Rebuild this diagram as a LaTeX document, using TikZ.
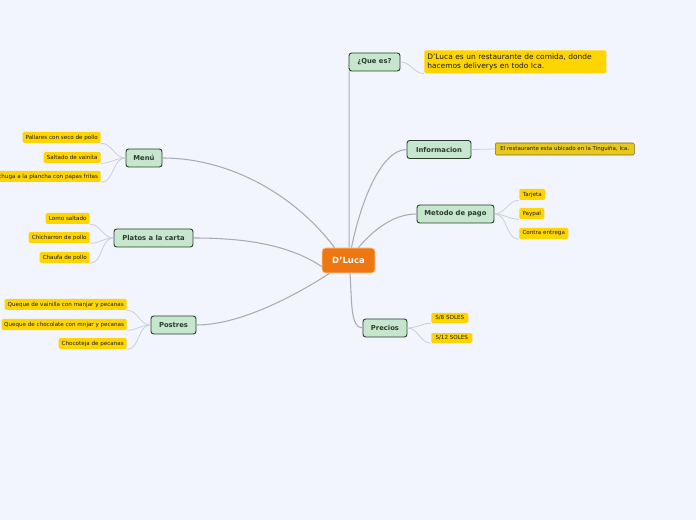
\documentclass[tikz,border=0pt]{standalone}
\usepackage{fontspec}
\setmainfont{DejaVu Sans}
\definecolor{bgc}{HTML}{F3F5FE}
\definecolor{topicfill}{HTML}{C6E6CE}
\definecolor{topicdraw}{HTML}{2B3B30}
\definecolor{leaffill}{HTML}{FFD500}
\definecolor{infofill}{HTML}{E9C81C}
\definecolor{infodraw}{HTML}{7A6A20}
\definecolor{centerfill}{HTML}{EE7711}
\definecolor{mainline}{HTML}{A9ABB6}
\definecolor{leafline}{HTML}{CDCFD8}
\begin{document}
\begin{tikzpicture}[x=0.75pt,y=-0.75pt,
  centerbox/.style={draw=orange!40,line width=0.6pt,fill=centerfill,rounded corners=2.5pt,text=white,font=\fontsize{6.4}{7}\selectfont\bfseries,minimum width=53*0.75pt,minimum height=25*0.75pt,inner sep=0pt},
  topic/.style={draw=topicdraw,line width=0.7pt,fill=topicfill,rounded corners=2pt,text=topicdraw,font=\fontsize{5.1}{5.5}\selectfont\bfseries,minimum height=18*0.75pt,inner sep=0pt},
  leaf/.style={fill=leaffill,rounded corners=1pt,text=black!90,font=\fontsize{4.2}{4.8}\selectfont,minimum height=11*0.75pt,inner sep=0pt,inner xsep=2pt},
  mline/.style={draw=mainline,line width=0.8pt},
  lline/.style={draw=leafline,line width=0.6pt}]
\fill[bgc] (0,0) rectangle (696,520);
\useasboundingbox (0,0) rectangle (696,520);

% center
\node[centerbox] (c) at (348.5,260.5) {D'Luca};

% right topics
\node[topic,minimum width=51*0.75pt] (que) at (374.5,62) {¿Que es?};
\node[topic,minimum width=64*0.75pt] (info) at (439,149.5) {Informacion};
\node[topic,minimum width=77*0.75pt] (met) at (455.5,214) {Metodo de pago};
\node[topic,minimum width=44*0.75pt] (pre) at (385,328) {Precios};

% left topics
\node[topic,minimum width=36*0.75pt] (menu) at (144,158) {Menú};
\node[topic,minimum width=79*0.75pt] (plat) at (153.5,238) {Platos a la carta};
\node[topic,minimum width=45*0.75pt] (post) at (173.5,325) {Postres};

% leaves right
\node[fill=leaffill,rounded corners=1pt,anchor=north west,text width=176*0.75pt,minimum height=23*0.75pt,inner sep=0pt,inner xsep=3*0.75pt,align=left,font=\fontsize{5.6}{6.8}\selectfont,text=black!90] (desc) at (424,50) {D'Luca es un restaurante de comida, donde\\hacemos deliverys en todo Ica.};
\node[leaf,fill=infofill,draw=infodraw,line width=0.4pt,font=\fontsize{4.1}{4.5}\selectfont,anchor=west,minimum width=139*0.75pt,minimum height=12*0.75pt] (il) at (495,149) {El restaurante esta ubicado en la Tinguiña, Ica.};
\node[leaf,anchor=west,minimum width=26*0.75pt] (tar) at (519,194.5) {Tarjeta};
\node[leaf,anchor=west,minimum width=25*0.75pt] (pay) at (519,213.5) {Paypal};
\node[leaf,anchor=west,minimum width=49*0.75pt] (con) at (519,233.5) {Contra entrega};
\node[leaf,anchor=west,minimum width=37*0.75pt,minimum height=10*0.75pt] (s8) at (431,318) {S/8 SOLES};
\node[leaf,anchor=west,minimum width=41*0.75pt,minimum height=10*0.75pt] (s12) at (431,338) {S/12 SOLES};

% leaves left
\node[leaf,anchor=east,minimum width=78*0.75pt] (pal) at (101,137.5) {Pallares con seco de pollo};
\node[leaf,anchor=east,minimum width=57*0.75pt] (sal) at (101,157.5) {Saltado de vainita};
\node[leaf,anchor=east] (pech) at (101,176.5) {Pechuga a la plancha con papas fritas};
\node[leaf,anchor=east,minimum width=44*0.75pt] (lom) at (90,218.5) {Lomo saltado};
\node[leaf,anchor=east,minimum width=61*0.75pt] (chi) at (90,237.5) {Chicharron de pollo};
\node[leaf,anchor=east,minimum width=50*0.75pt] (cha) at (90,257.5) {Chaufa de pollo};
\node[leaf,anchor=east,minimum width=122*0.75pt] (van) at (127,304.5) {Queque de vainilla con manjar y pecanas};
\node[leaf,anchor=east,minimum width=125*0.75pt] (cho) at (127,324.5) {Queque de chocolate con mnjar y pecanas};
\node[leaf,anchor=east,minimum width=68*0.75pt] (ctj) at (127,343.5) {Chocoteja de pecanas};

% main connectors
\draw[mline] ([xshift=0.4pt]c.north) -- ([xshift=0.4pt]que.south west);
\draw[mline] ([xshift=3*0.75pt]c.north) .. controls (360,205) and (380,150) .. (info.west);
\draw[mline] ([xshift=10*0.75pt]c.north) .. controls (375,228) and (395,214) .. (met.west);
\draw[mline] ([xshift=1.5*0.75pt]c.south) .. controls (352,300) and (350,328) .. (pre.west);
\draw[mline] ([xshift=-14*0.75pt]c.north) .. controls (295,195) and (230,158) .. (menu.east);
\draw[mline] ([yshift=-6*0.75pt]c.west) .. controls (285,242) and (235,238) .. (plat.east);
\draw[mline] ([xshift=-19*0.75pt]c.south) .. controls (285,302) and (235,325) .. (post.east);

% leaf connectors
\draw[lline] (que.east) to[out=0,in=180] (desc.south west);
\draw[lline] (info.east) -- (il.west);
\draw[lline] (met.east) to[out=0,in=180] (tar.south west);
\draw[lline] (met.east) to[out=0,in=180] (pay.south west);
\draw[lline] (met.east) to[out=0,in=180] (con.south west);
\draw[lline] (pre.east) to[out=0,in=180] (s8.south west);
\draw[lline] (pre.east) to[out=0,in=180] (s12.south west);
\draw[lline] (menu.west) to[out=180,in=0] (pal.south east);
\draw[lline] (menu.west) to[out=180,in=0] (sal.south east);
\draw[lline] (menu.west) to[out=180,in=0] (pech.south east);
\draw[lline] (plat.west) to[out=180,in=0] (lom.south east);
\draw[lline] (plat.west) to[out=180,in=0] (chi.south east);
\draw[lline] (plat.west) to[out=180,in=0] (cha.south east);
\draw[lline] (post.west) to[out=180,in=0] (van.south east);
\draw[lline] (post.west) to[out=180,in=0] (cho.south east);
\draw[lline] (post.west) to[out=180,in=0] (ctj.south east);
\end{tikzpicture}
\end{document}
